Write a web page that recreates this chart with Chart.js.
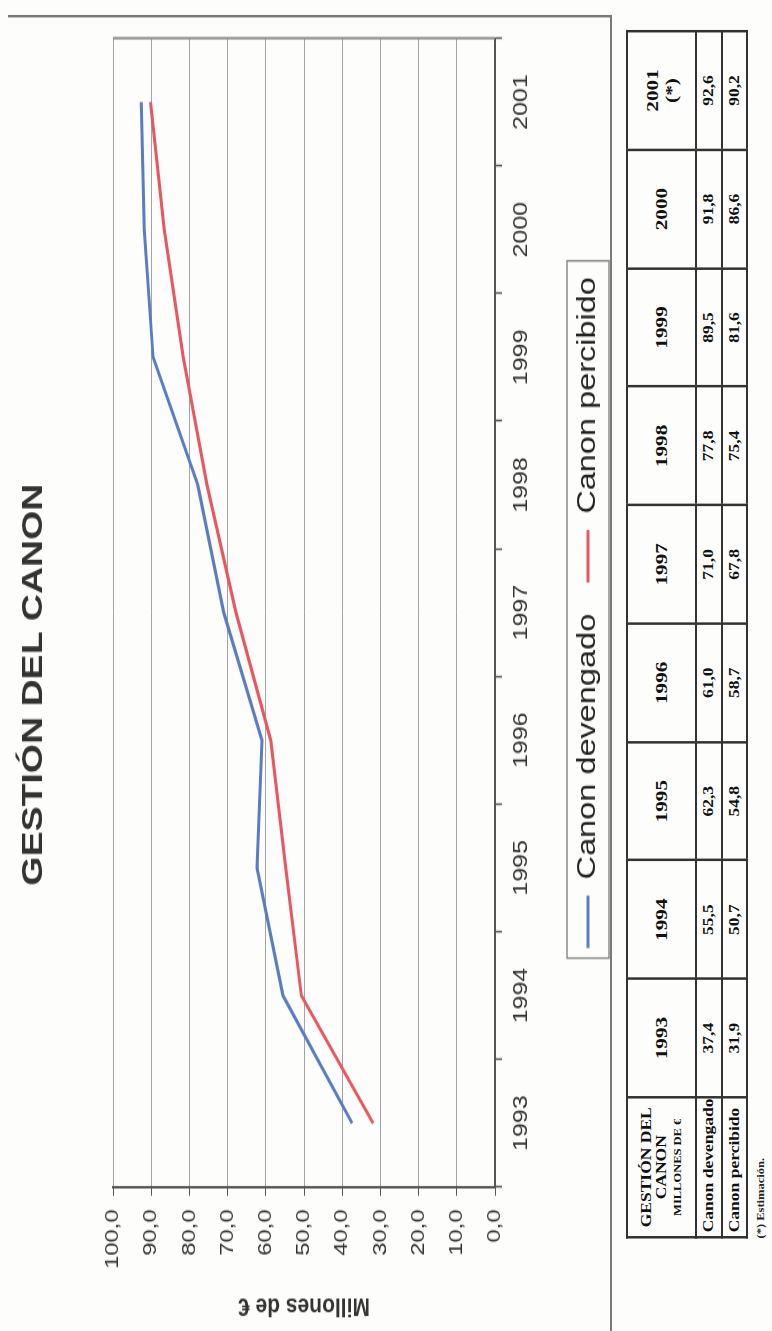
<!DOCTYPE html>
<html>
<head>
<meta charset="utf-8">
<script src="https://cdn.jsdelivr.net/npm/chart.js@4.4.1/dist/chart.umd.min.js"></script>
<style>
  body { margin: 0; width: 772px; height: 1331px; overflow: hidden; background: #fdfdfb; }
  /* the scan is turned a quarter turn and stretched along its long side */
  #page {
    position: absolute; left: 0; top: 0; width: 1065px; height: 772px;
    transform-origin: 0 0;
    transform: translate(0px, 1331px) rotate(-90deg) scale(1.2498, 1);
  }
  #frame {
    position: absolute; left: 0; top: 8px; width: 1053px; height: 604px;
    border-right: 2px solid #7a7a7a; border-bottom: 2px solid #7a7a7a; box-sizing: border-box;
  }
  #chartBox { position: absolute; left: 0; top: 0; width: 1065px; height: 626px; }
  #tbl {
    position: absolute; left: 74px; top: 626px; width: 967px;
    border-collapse: collapse; table-layout: fixed;
    font-family: "Liberation Serif", "DejaVu Serif", serif; font-weight: bold; color: #111;
  }
  #tbl td { border: 2px solid #333; text-align: center; padding: 0; }
  #tbl .hd td { height: 67px; font-size: 17px; line-height: 19px; }
  #tbl .hd td.lab { font-size: 14px; line-height: 15px; }
  #tbl .hd td.lab span { font-size: 10px; }
  #tbl .r1 td { height: 24px; font-size: 14px; }
  #tbl .r2 td { height: 23px; font-size: 14px; }
  #tbl td.name { text-align: left; padding-left: 3px; white-space: nowrap; }
  #note {
    position: absolute; left: 74px; top: 755px;
    font-family: "Liberation Serif", serif; font-weight: bold; font-size: 10px; color: #222;
  }
</style>
</head>
<body>
<div id="page">
  <div id="frame"></div>
  <div id="chartBox"><canvas id="chart"></canvas></div>
  <table id="tbl"></table>
  <div id="note">(*) Estimación.</div>
</div>
<script>
const years = ['1993', '1994', '1995', '1996', '1997', '1998', '1999', '2000', '2001'];
const devengado = [37.4, 55.5, 62.3, 61.0, 71.0, 77.8, 89.5, 91.8, 92.6];
const percibido = [31.9, 50.7, 54.8, 58.7, 67.8, 75.4, 81.6, 86.6, 90.2];
const seriesNames = ['Canon devengado', 'Canon percibido'];
const yMin = 0, yMax = 100, yStep = 10;

const blue = '#5a7cc2';
const red = '#e8565f';
const font = 'Arial, "Liberation Sans", sans-serif';

function fmt(v) {
    return v.toFixed(1).replace('.', ',');
}

// table under the chart
function buildTable() {
    const tbl = document.getElementById('tbl');
    let html = '<colgroup><col style="width:112px">';
    years.forEach(() => { html += '<col>'; });
    html += '</colgroup>';
    html += '<tr class="hd"><td class="lab">GESTIÓN DEL<br>CANON<br><span>MILLONES DE €</span></td>';
    years.forEach((y, i) => {
        html += '<td>' + y + (i === years.length - 1 ? '<br>(*)' : '') + '</td>';
    });
    html += '</tr><tr class="r1"><td class="name">' + seriesNames[0] + '</td>';
    devengado.forEach(v => { html += '<td>' + fmt(v) + '</td>'; });
    html += '</tr><tr class="r2"><td class="name">' + seriesNames[1] + '</td>';
    percibido.forEach(v => { html += '<td>' + fmt(v) + '</td>'; });
    html += '</tr>';
    tbl.innerHTML = html;
}
buildTable();

// right edge of the plot and the frame round the legend
const extras = {
    id: 'extras',
    afterDraw(chart) {
        const ctx = chart.ctx;
        const a = chart.chartArea;
        ctx.save();
        ctx.strokeStyle = '#8a8a8a';
        ctx.lineWidth = 2;
        ctx.beginPath();
        ctx.moveTo(a.right, a.top);
        ctx.lineTo(a.right, a.bottom);
        ctx.stroke();

        const boxes = chart.legend.legendHitBoxes;
        if (boxes && boxes.length) {
            const l = Math.min(...boxes.map(b => b.left));
            const r = Math.max(...boxes.map(b => b.left + b.width));
            const cy = boxes[0].top + boxes[0].height / 2;
            ctx.strokeStyle = '#8c8c8c';
            ctx.lineWidth = 1.5;
            ctx.strokeRect(l - 8, cy - 21, r - l + 21, 42);
        }
        ctx.restore();
    }
};

Chart.defaults.font.family = font;
Chart.defaults.color = '#333';

const ctx = document.getElementById('chart').getContext('2d');
new Chart(ctx, {
    type: 'line',
    data: {
        labels: years,
        datasets: [{
            label: seriesNames[0],
            data: devengado,
            borderColor: blue,
            backgroundColor: blue,
            borderWidth: 3,
            pointRadius: 0,
            tension: 0
        }, {
            label: seriesNames[1],
            data: percibido,
            borderColor: red,
            backgroundColor: red,
            borderWidth: 3,
            pointRadius: 0,
            tension: 0
        }]
    },
    options: {
        responsive: true,
        maintainAspectRatio: false,
        animation: false,
        layout: { padding: { left: 0, right: 30.6, top: 0, bottom: 15 } },
        plugins: {
            title: {
                display: true,
                text: 'GESTIÓN DEL CANON',
                color: '#333',
                font: { size: 30, weight: 'bold' },
                padding: { top: 16, bottom: 61 }
            },
            legend: {
                position: 'bottom',
                fullSize: false,
                labels: {
                    boxWidth: 42,
                    boxHeight: 3,
                    padding: 25,
                    color: '#222',
                    font: { size: 26 },
                    generateLabels: function(chart) {
                        const items = Chart.defaults.plugins.legend.labels.generateLabels(chart);
                        items.forEach(it => { it.lineWidth = 0; });
                        return items;
                    }
                }
            },
            tooltip: { enabled: false }
        },
        scales: {
            x: {
                offset: true,
                grid: { offset: true, drawOnChartArea: false, tickLength: 7, tickColor: '#555', tickWidth: 1.5 },
                border: { color: '#555', width: 2 },
                ticks: { padding: 7, color: '#333', font: { size: 20 }, maxRotation: 0 },
                afterFit: function(scale) { scale.height = 55; }
            },
            y: {
                min: yMin,
                max: yMax,
                grid: { color: '#a3a3a3', lineWidth: 1, tickLength: 7, tickColor: '#555' },
                border: { color: '#555', width: 2 },
                ticks: {
                    stepSize: yStep,
                    padding: 11,
                    color: '#333',
                    font: { size: 19 },
                    callback: function(v) { return fmt(v); }
                },
                title: {
                    display: true,
                    text: 'Millones de €',
                    color: '#333',
                    font: { size: 21, weight: 'bold' },
                    padding: { top: 8, bottom: 0 }
                },
                afterFit: function(scale) { scale.width = 115.2; }
            }
        }
    },
    plugins: [extras]
});
</script>
</body>
</html>
